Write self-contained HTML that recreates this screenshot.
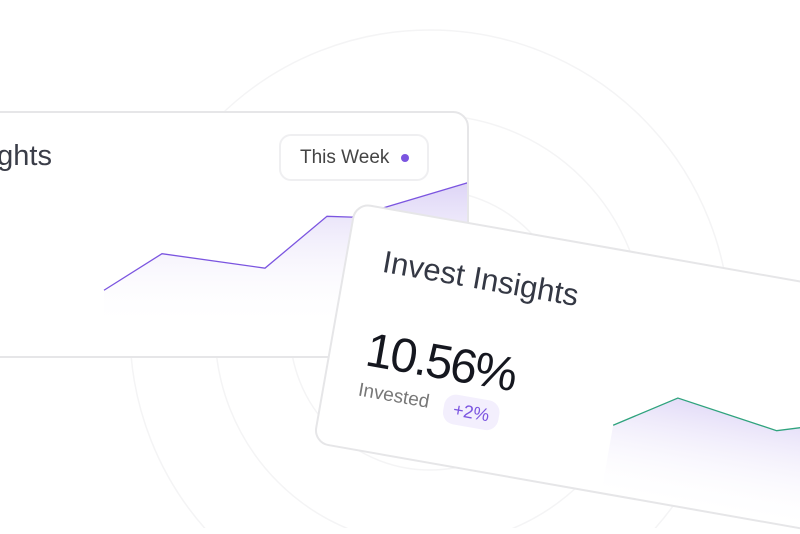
<!DOCTYPE html>
<html><head><meta charset="utf-8"><style>
html,body{margin:0;padding:0;background:#fff;}
body{width:800px;height:528px;position:relative;overflow:hidden;font-family:"Liberation Sans",sans-serif;}
.card{position:absolute;background:#fff;border:2px solid #e6e6e8;border-radius:16px;box-sizing:border-box;overflow:hidden;}
</style></head><body>
<svg width="800" height="528" style="position:absolute;left:0;top:0">
<circle cx="430" cy="330" r="300" fill="none" stroke="#f4f4f5" stroke-width="1.5"/>
<circle cx="430" cy="330" r="215" fill="none" stroke="#f4f4f5" stroke-width="1.5"/>
<circle cx="430" cy="330" r="140" fill="none" stroke="#f4f4f5" stroke-width="1.5"/>
</svg>
<div class="card" style="left:-30px;top:111px;width:499px;height:247px;">
  <div style="position:absolute;left:-20px;top:27px;font-size:29px;color:#3a3d48;">Insights</div>
  <div style="position:absolute;left:307px;top:21px;width:150px;height:47px;box-sizing:border-box;border:2px solid #efeff1;border-radius:12px;font-size:19px;color:#444;line-height:43px;padding-left:19px;">This Week<span style="position:absolute;right:18px;top:18px;width:8px;height:8px;border-radius:50%;background:#7b55e0"></span></div>
  <svg id="backchart" width="499" height="247" style="position:absolute;left:0;top:0"></svg>
</div>
<div class="card" style="left:355px;top:202px;width:520px;height:245px;transform-origin:0 0;transform:rotate(10deg);">
  <div style="position:absolute;left:36px;top:34px;font-size:31px;color:#343844;">Invest Insights</div>
  <div style="position:absolute;left:35px;top:114px;font-size:48px;color:#15171f;letter-spacing:-2px;">10.56%</div>
  <div style="position:absolute;left:34px;top:172px;font-size:19px;color:#777;">Invested</div>
  <div style="position:absolute;left:121px;top:170px;width:56px;height:30px;border-radius:12px;background:#f3effd;color:#7b55e0;font-size:18px;line-height:30px;text-align:center;">+2%</div>
  <svg id="frontchart" width="520" height="245" style="position:absolute;left:0;top:0"></svg>
</div>
<script>
// back chart data
const backX = [0, 1, 2, 3, 4, 5];
const backValues = [35, 78, 61, 122, 121, 162];
// front chart data
const frontX = [0, 1, 2, 3];
const frontValues = [40, 78, 63, 90];
const NS='http://www.w3.org/2000/svg';
function draw(svgId, xs, vs, xScale, yScale, baseY, color, gid){
  const svg=document.getElementById(svgId);
  const defs=document.createElementNS(NS,'defs');
  defs.innerHTML='<linearGradient id="'+gid+'" x1="0" y1="0" x2="0" y2="1"><stop offset="0" stop-color="#d9cff5" stop-opacity="0.9"/><stop offset="1" stop-color="#ffffff" stop-opacity="0"/></linearGradient>';
  svg.appendChild(defs);
  const pts=xs.map((x,i)=>[xScale(x,i),yScale(vs[i])]);
  const line=pts.map(p=>p.join(',')).join(' ');
  const area=document.createElementNS(NS,'polygon');
  area.setAttribute('points',line+' '+pts[pts.length-1][0]+','+baseY+' '+pts[0][0]+','+baseY);
  area.setAttribute('fill','url(#'+gid+')');
  
  
  svg.appendChild(area);
  const pl=document.createElementNS(NS,'polyline');
  pl.setAttribute('points',line);
  pl.setAttribute('fill','none');
  pl.setAttribute('stroke',color);
  pl.setAttribute('stroke-width','1.3');
  
  
  svg.appendChild(pl);
}
const backXpos=[132,190,293,355,380,497];
draw('backchart',backX,backValues,(x,i)=>backXpos[i],v=>207-v*0.85,215,'#7b55e0','g1');
const frontXpos=[291,350,453,540];
draw('frontchart',frontX,frontValues,(x,i)=>frontXpos[i],v=>213-v,245,'#2fa37d','g2');
</script>
</body></html>
